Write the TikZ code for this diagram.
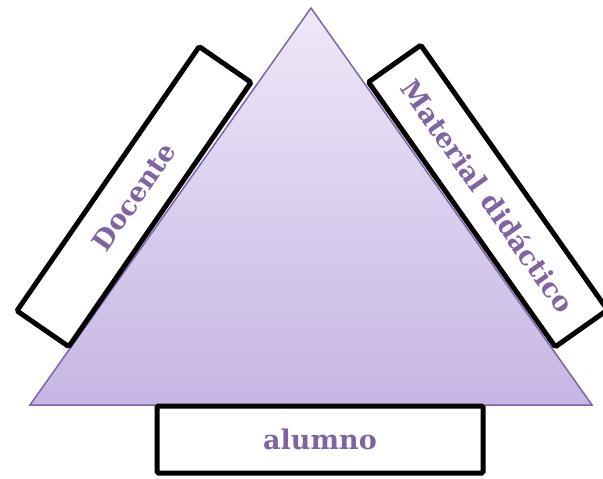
\documentclass[tikz,border=0pt]{standalone}
\usepackage{fontspec}
\setmainfont{DejaVu Serif}
\usetikzlibrary{shadings}
\definecolor{triedge}{RGB}{128,100,170}
\definecolor{tritop}{RGB}{238,232,248}
\definecolor{tribot}{RGB}{198,182,228}
\definecolor{labelpurple}{RGB}{128,100,162}
\tikzset{
  labelbox/.style={draw=black, fill=white, line width=5pt, rounded corners=1.5pt,
    inner sep=0pt, font=\bfseries\fontsize{27}{31}\selectfont, text=labelpurple},
}
\begin{document}
\begin{tikzpicture}[x=1pt,y=-1pt]
\useasboundingbox (0,0) rectangle (603,479);
\fill[white] (0,0) rectangle (603,479);
% triangle
\coordinate (apex) at (311,8);
\coordinate (bl) at (30,405);
\coordinate (br) at (592,405);
\shade[top color=tritop, bottom color=tribot, draw=triedge, line width=1.5pt, line join=miter]
  (apex) -- (br) -- (bl) -- cycle;
% boxes
\node[labelbox, minimum width=321pt, minimum height=63pt, rotate=55.4] (docente) at (134,196.6) {Docente};
\node[labelbox, minimum width=324pt, minimum height=64pt, rotate=-54.8] (material) at (488,196) {Material didáctico};
\node[labelbox, minimum width=326pt, minimum height=67pt] (alumno) at (320,439.5) {alumno};
\end{tikzpicture}
\end{document}
